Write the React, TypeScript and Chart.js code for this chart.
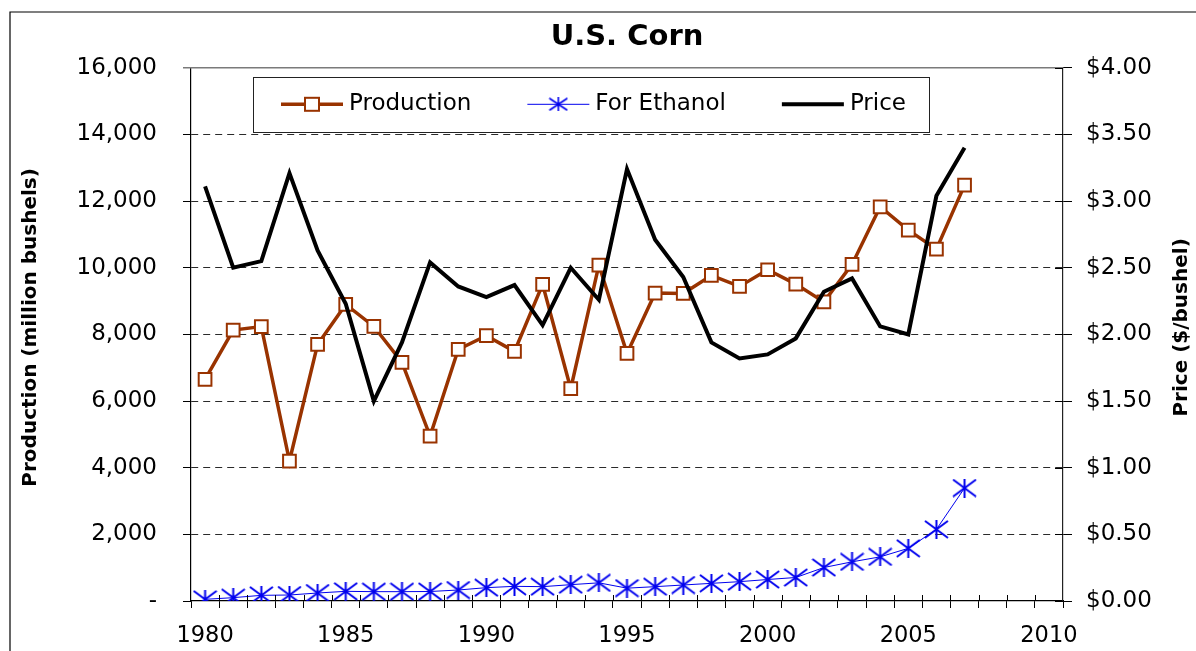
import React, { useEffect, useRef } from "react";
import { Chart, registerables } from "chart.js";

Chart.register(...registerables);

// ---------- data ----------
const categories = [
  "1980", "1981", "1982", "1983", "1984", "1985", "1986", "1987", "1988", "1989",
  "1990", "1991", "1992", "1993", "1994", "1995", "1996", "1997", "1998", "1999",
  "2000", "2001", "2002", "2003", "2004", "2005", "2006", "2007", "2008", "2009",
  "2010",
];
const xTickLabels = ["1980", "1985", "1990", "1995", "2000", "2005", "2010"];

const productionValues = [
  6650, 8130, 8235, 4200, 7700, 8900, 8240, 7160, 4950, 7550,
  7960, 7490, 9500, 6370, 10080, 7430, 9240, 9230, 9770, 9440,
  9940, 9510, 8975, 10100, 11830, 11130, 10560, 12480,
];
const ethanolValues = [
  50, 100, 170, 180, 240, 290, 280, 280, 285, 330,
  400, 440, 430, 490, 545, 385, 430, 480, 530, 580,
  645, 705, 1005, 1175, 1325, 1580, 2150, 3390,
];
const priceValues = [
  3.11, 2.5, 2.55, 3.21, 2.63, 2.23, 1.5, 1.94, 2.54, 2.36,
  2.28, 2.37, 2.07, 2.5, 2.26, 3.24, 2.71, 2.43, 1.94, 1.82,
  1.85, 1.97, 2.32, 2.42, 2.06, 2.0, 3.04, 3.4,
];

const titleText = "U.S. Corn";
const leftAxisTitle = "Production (million bushels)";
const rightAxisTitle = "Price ($/bushel)";
const seriesLabels = ["Production", "For Ethanol", "Price"];

// ---------- styles ----------
const FONT = '"DejaVu Sans", Verdana, sans-serif';
const BROWN = "#993300";
const BLUE = "#0000EE";

function makeAsterisk(w: number, h: number, color: string, lw: number) {
  const c = document.createElement("canvas");
  c.width = w;
  c.height = h;
  const g = c.getContext("2d")!;
  g.strokeStyle = color;
  g.lineWidth = lw;
  g.beginPath();
  g.moveTo(1, 1);
  g.lineTo(w - 1, h - 1);
  g.moveTo(1, h - 1);
  g.lineTo(w - 1, 1);
  g.moveTo(w / 2, 0);
  g.lineTo(w / 2, h);
  g.stroke();
  return c;
}

const decorPlugin = {
  id: "decor",
  afterDraw(chart: any) {
    const ctx = chart.ctx as CanvasRenderingContext2D;
    const { left, right, top, bottom } = chart.chartArea;
    ctx.save();

    // outer frame (left + top)
    ctx.strokeStyle = "#000";
    ctx.lineWidth = 1.2;
    ctx.beginPath();
    ctx.moveTo(10, 2000);
    ctx.lineTo(10, 12);
    ctx.lineTo(4000, 12);
    ctx.stroke();

    // plot top border (solid gray)
    ctx.strokeStyle = "#7a7a7a";
    ctx.lineWidth = 1.5;
    ctx.beginPath();
    ctx.moveTo(left - 8, top);
    ctx.lineTo(right, top);
    ctx.stroke();

    // inside parts of the x-axis ticks
    const n = chart.data.labels.length;
    const step = (right - left) / n;
    ctx.strokeStyle = "#000";
    ctx.lineWidth = 1;
    ctx.beginPath();
    for (let k = 1; k < n; k++) {
      const x = Math.round(left + k * step) + 0.5;
      ctx.moveTo(x, bottom - 6);
      ctx.lineTo(x, bottom);
    }
    // inside parts of right-axis ticks
    const y1 = chart.scales.y1;
    y1.ticks.forEach((_t: any, i: number) => {
      const y = Math.round(y1.getPixelForTick(i)) + 0.5;
      ctx.moveTo(right - 8, y);
      ctx.lineTo(right, y);
    });
    ctx.stroke();

    // axis titles (both read bottom-to-top)
    const midY = (top + bottom) / 2 - 7;
    ctx.fillStyle = "#000";
    ctx.font = `bold 20px ${FONT}`;
    ctx.textAlign = "center";
    ctx.textBaseline = "middle";
    [
      { text: leftAxisTitle, x: left - 160 },
      { text: rightAxisTitle, x: right + 119 },
    ].forEach((t) => {
      ctx.save();
      ctx.translate(t.x, midY);
      ctx.rotate(-Math.PI / 2);
      ctx.fillText(t.text, 0, 0);
      ctx.restore();
    });

    // legend
    const dsets = chart.data.datasets;
    const order = [0, 1, 2];
    ctx.font = `23px ${FONT}`;
    const sampleW = 62;
    const gapText = 6;
    const gapItem = 56;
    const padL = 28;
    const padR = 23;
    let total = padL + padR;
    order.forEach((i, k) => {
      total += sampleW + gapText + ctx.measureText(dsets[i].label).width;
      if (k < order.length - 1) total += gapItem;
    });
    const boxL = left + 62;
    const boxT = top + 9;
    const boxH = 55;
    ctx.fillStyle = "#fff";
    ctx.fillRect(boxL, boxT, total, boxH);
    ctx.strokeStyle = "#222";
    ctx.lineWidth = 1;
    ctx.strokeRect(Math.round(boxL) + 0.5, Math.round(boxT) + 0.5, Math.round(total), boxH);
    const cy = boxT + boxH / 2;
    let x = boxL + padL;
    order.forEach((i) => {
      const ds = dsets[i];
      ctx.strokeStyle = ds.borderColor;
      ctx.lineWidth = ds.borderWidth;
      ctx.beginPath();
      ctx.moveTo(x, cy);
      ctx.lineTo(x + sampleW, cy);
      ctx.stroke();
      const mx = x + sampleW / 2;
      if (ds.legendMarker === "square") {
        ctx.fillStyle = "#fff";
        ctx.fillRect(mx - 7, cy - 6.5, 14, 13);
        ctx.strokeStyle = ds.borderColor;
        ctx.lineWidth = 2;
        ctx.strokeRect(mx - 7, cy - 6.5, 14, 13);
      } else if (ds.legendMarker === "asterisk") {
        const img = ds.legendImage;
        ctx.drawImage(img, mx - img.width / 2, cy - img.height / 2);
      }
      x += sampleW + gapText;
      ctx.fillStyle = "#000";
      ctx.textBaseline = "middle";
      ctx.textAlign = "left";
      ctx.fillText(ds.label, x, cy);
      x += ctx.measureText(ds.label).width + gapItem;
    });

    ctx.restore();
  },
};

export default function App() {
  const ref = useRef<HTMLCanvasElement | null>(null);

  useEffect(() => {
    if (!ref.current) return;
    Chart.defaults.font.family = FONT;
    Chart.defaults.color = "#000";

    const asterisk = makeAsterisk(25, 19, BLUE, 2);
    const asteriskSmall = makeAsterisk(20, 14, BLUE, 1.6);

    const chart = new Chart(ref.current, {
      type: "line",
      data: {
        labels: categories,
        datasets: [
          {
            label: seriesLabels[0],
            data: productionValues,
            yAxisID: "y",
            borderColor: BROWN,
            borderWidth: 3.5,
            pointStyle: "rect",
            pointRadius: 9,
            pointBorderWidth: 2,
            pointBackgroundColor: "#fff",
            pointBorderColor: BROWN,
            tension: 0,
            order: 1,
            legendMarker: "square",
          } as any,
          {
            label: seriesLabels[1],
            data: ethanolValues,
            yAxisID: "y",
            borderColor: BLUE,
            borderWidth: 1,
            pointStyle: asterisk,
            pointRadius: 10,
            tension: 0,
            order: 2,
            legendMarker: "asterisk",
            legendImage: asteriskSmall,
          } as any,
          {
            label: seriesLabels[2],
            data: priceValues,
            yAxisID: "y1",
            borderColor: "#000",
            borderWidth: 4,
            pointRadius: 0,
            tension: 0,
            order: 0,
            legendMarker: "none",
          } as any,
        ],
      },
      options: {
        responsive: false,
        animation: false,
        events: [],
        layout: { padding: 0 },
        plugins: {
          legend: { display: false },
          tooltip: { enabled: false },
          title: {
            display: true,
            text: titleText,
            fullSize: false,
            font: { size: 29, weight: "bold", family: FONT },
            color: "#000",
            padding: { top: 20, bottom: 13 },
          },
        },
        scales: {
          x: {
            type: "category",
            offset: true,
            grid: {
              offset: true,
              drawOnChartArea: false,
              drawTicks: true,
              tickLength: 7,
              tickColor: "#000",
            },
            border: { display: true, color: "#000", width: 1.2 },
            ticks: {
              autoSkip: false,
              maxRotation: 0,
              minRotation: 0,
              padding: 15,
              font: { size: 22.5, family: FONT },
              color: "#000",
              callback: function (this: any, _v: any, i: number) {
                const lab = categories[i];
                return xTickLabels.includes(lab) ? lab : "";
              },
            },
            afterFit: (s: any) => {
              s.height = 50;
            },
          },
          y: {
            type: "linear",
            position: "left",
            min: 0,
            max: 16000,
            ticks: {
              stepSize: 2000,
              padding: 26,
              font: { size: 23, family: FONT },
              color: "#000",
              callback: (v: any) => (Number(v) === 0 ? "-" : Number(v).toLocaleString("en-US")),
            },
            grid: {
              color: (c: any) =>
                c.tick && (c.tick.value === 0 || c.tick.value === 16000) ? "rgba(0,0,0,0)" : "#2a2a2a",
              lineWidth: 1,
              tickLength: 8,
              tickColor: (c: any) => (c.tick && c.tick.value === 16000 ? "#7a7a7a" : "#000"),
            },
            border: { display: true, color: "#000", width: 1.2, dash: [7, 5] },
            title: { display: false, text: leftAxisTitle },
            afterFit: (s: any) => {
              s.width = 191;
            },
          },
          y1: {
            type: "linear",
            position: "right",
            min: 0,
            max: 4,
            ticks: {
              stepSize: 0.5,
              padding: 14,
              font: { size: 23, family: FONT },
              color: "#000",
              callback: (v: any) => "$" + Number(v).toFixed(2),
            },
            grid: {
              drawOnChartArea: false,
              tickLength: 9,
              tickColor: "#000",
            },
            border: { display: true, color: "#222", width: 1.2 },
            title: { display: false, text: rightAxisTitle },
            afterFit: (s: any) => {
              s.width = 133;
            },
          },
        },
      } as any,
      plugins: [decorPlugin],
    });

    return () => chart.destroy();
  }, []);

  return (
    <div style={{ position: "fixed", left: 0, top: 0, width: 1196, height: 651, overflow: "hidden", background: "#fff" }}>
      <canvas ref={ref} width={1196} height={651} style={{ display: "block", width: 1196, height: 651 }} />
    </div>
  );
}
